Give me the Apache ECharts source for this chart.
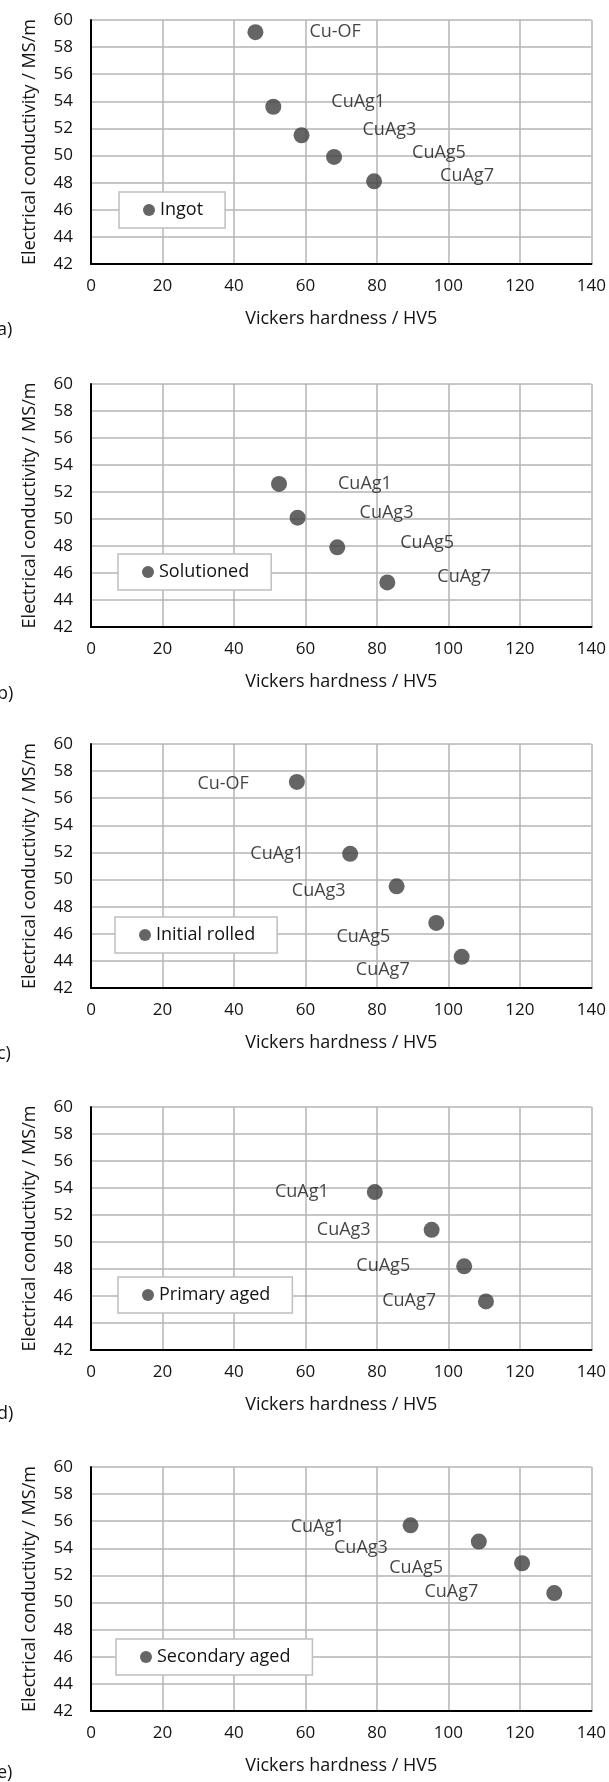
<!DOCTYPE html>
<html>
<head>
<meta charset="utf-8">
<script src="https://cdn.jsdelivr.net/npm/echarts@6/dist/echarts.min.js"></script>
<style>
html, body { margin: 0; padding: 0; background: #fff; }
#main { width: 609px; height: 1782px; }
</style>
</head>
<body>
<div id="main"></div>
<script>
// data
var allAlloys = ['Cu-OF', 'CuAg1', 'CuAg3', 'CuAg5', 'CuAg7'];
var agAlloys = ['CuAg1', 'CuAg3', 'CuAg5', 'CuAg7'];

var ingotHV = [46, 51, 58.9, 68, 79.2];
var ingotEC = [59.1, 53.6, 51.5, 49.9, 48.1];

var solutionedHV = [52.6, 57.8, 68.9, 82.9];
var solutionedEC = [52.6, 50.1, 47.9, 45.3];

var rolledHV = [57.6, 72.5, 85.5, 96.6, 103.7];
var rolledEC = [57.2, 51.9, 49.5, 46.8, 44.3];

var primaryHV = [79.4, 95.3, 104.4, 110.5];
var primaryEC = [53.7, 50.9, 48.2, 45.6];

var secondaryHV = [89.4, 108.5, 120.6, 129.6];
var secondaryEC = [55.7, 54.5, 52.9, 50.7];

var hvMin = 0, hvMax = 140, hvStep = 20;
var ecMin = 42, ecMax = 60, ecStep = 2;

var xTitle = 'Vickers hardness / HV5';
var yTitle = 'Electrical conductivity / MS/m';

var font = '"Open Sans", sans-serif';
var textColor = '#141414';
var dotColor = '#3f3f3f';
var gridColor = '#b4b4b4';
var dotSize = 16;

var panels = [
    { tag: 'a)', name: 'Ingot', names: allAlloys, hv: ingotHV, ec: ingotEC,
      top: 20, height: 244, legend: [119, 192], tagY: 333,
      side: 'right', gaps: [54, 58, 61, 78, 66], dys: [0, -5, -5, -4, -5] },
    { tag: 'b)', name: 'Solutioned', names: agAlloys, hv: solutionedHV, ec: solutionedEC,
      top: 384, height: 243, legend: [118, 554], tagY: 697,
      side: 'right', gaps: [59, 62, 63, 50], dys: [0, -5, -4, -6] },
    { tag: 'c)', name: 'Initial rolled', names: allAlloys, hv: rolledHV, ec: rolledEC,
      top: 744, height: 244, legend: [115, 917], tagY: 1057,
      side: 'left', gaps: [48, 46, 51, 46, 52], dys: [2, 0, 5, 14, 13] },
    { tag: 'd)', name: 'Primary aged', names: agAlloys, hv: primaryHV, ec: primaryEC,
      top: 1107, height: 243, legend: [118, 1277], tagY: 1417,
      side: 'left', gaps: [46, 61, 54, 50], dys: [0, 0, 0, -1] },
    { tag: 'e)', name: 'Secondary aged', names: agAlloys, hv: secondaryHV, ec: secondaryEC,
      top: 1467, height: 244, legend: [116, 1639], tagY: 1776,
      side: 'left', gaps: [66, 91, 79, 76], dys: [2, 6, 5, -1] }
];

var grids = [], xAxes = [], yAxes = [], series = [], legends = [], texts = [];

panels.forEach(function (p, k) {
    grids.push({ left: 91, right: 17, top: p.top, height: p.height, containLabel: false });

    xAxes.push({
        type: 'value', gridIndex: k, min: hvMin, max: hvMax, interval: hvStep,
        name: xTitle, nameLocation: 'middle', nameGap: 46,
        nameTextStyle: { fontFamily: font, fontSize: 18, color: textColor },
        axisLine: { show: true, onZero: false, lineStyle: { color: '#000', width: 2 } },
        axisTick: { show: false },
        axisLabel: { margin: 14, fontFamily: font, fontSize: 17, color: textColor },
        splitLine: { show: true, lineStyle: { color: gridColor, width: 1.5 } }
    });

    yAxes.push({
        type: 'value', gridIndex: k, min: ecMin, max: ecMax, interval: ecStep,
        name: yTitle, nameLocation: 'middle', nameGap: 52, nameRotate: 90,
        nameTextStyle: { fontFamily: font, fontSize: 18, color: textColor },
        axisLine: { show: true, onZero: false, lineStyle: { color: '#000', width: 2 } },
        axisTick: { show: false },
        axisLabel: { margin: 18, fontFamily: font, fontSize: 17, color: textColor },
        splitLine: { show: true, lineStyle: { color: gridColor, width: 1.5 } }
    });

    var pts = p.hv.map(function (v, i) {
        var dx = p.gaps[i] - dotSize / 2;
        return {
            name: p.names[i],
            value: [v, p.ec[i]],
            label: { offset: [p.side === 'right' ? dx : -dx, p.dys[i]] }
        };
    });

    series.push({
        name: p.name, type: 'scatter', xAxisIndex: k, yAxisIndex: k,
        symbol: 'circle', symbolSize: dotSize,
        itemStyle: { color: dotColor },
        label: {
            show: true, position: p.side, distance: 0, formatter: '{b}',
            fontFamily: font, fontSize: 18, color: textColor
        },
        data: pts
    });

    legends.push({
        data: [p.name], left: p.legend[0], top: p.legend[1],
        selectedMode: false, icon: 'circle', itemWidth: 12, itemHeight: 12,
        backgroundColor: '#fff', borderColor: '#bfbfbf', borderWidth: 1.5, borderRadius: 0,
        padding: [9, 22, 9, 24],
        textStyle: { fontFamily: font, fontSize: 18, color: textColor }
    });

    texts.push({
        type: 'text', left: -3, top: p.tagY - 12,
        style: { text: p.tag, fontFamily: font, fontSize: 18, fill: textColor }
    });
});

var chart = echarts.init(document.getElementById('main'));
chart.setOption({
    backgroundColor: '#fff',
    animation: false,
    grid: grids,
    xAxis: xAxes,
    yAxis: yAxes,
    legend: legends,
    series: series,
    graphic: texts
});
</script>
</body>
</html>
